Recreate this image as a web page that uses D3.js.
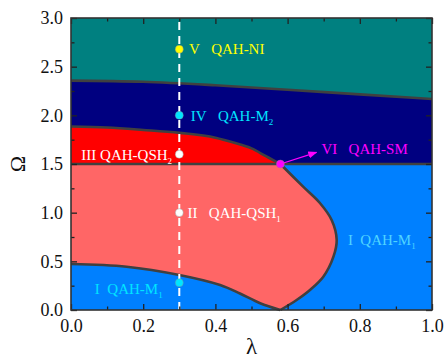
<!DOCTYPE html>
<html><head><meta charset="utf-8">
<script src="https://cdn.jsdelivr.net/npm/d3@7"></script>
<style>
html,body{margin:0;padding:0;background:#fff;}
svg text{font-family:"Liberation Serif","DejaVu Serif",serif !important;}
</style></head>
<body>
<svg id="c" width="444" height="358"></svg>
<script>
// ---- data ----
const xTicks = [0, 0.2, 0.4, 0.6, 0.8, 1.0];
const yTicks = [0, 0.5, 1.0, 1.5, 2.0, 2.5, 3.0];
const xMinor = [0.1, 0.3, 0.5, 0.7, 0.9];
const yMinor = [0.25, 0.75, 1.25, 1.75, 2.25, 2.75];

// V / IV boundary
const topLambda = [0, 0.2, 0.4, 0.6, 0.8, 1.0];
const topOmega  = [2.357, 2.345, 2.309, 2.263, 2.215, 2.168];

// III upper boundary
const redLambda = [0, 0.1, 0.2, 0.3, 0.4, 0.45, 0.5, 0.54, 0.565, 0.58];
const redOmega  = [1.885, 1.875, 1.85, 1.82, 1.77, 1.72, 1.66, 1.58, 1.53, 1.5];

// II right boundary (top to bottom)
const rightLambda = [0.58, 0.643, 0.69, 0.722, 0.736, 0.727, 0.699, 0.662, 0.625, 0.58];
const rightOmega  = [1.5, 1.267, 1.097, 0.925, 0.72, 0.548, 0.342, 0.206, 0.103, 0.0];

// II lower boundary
const lowLambda = [0, 0.154, 0.3, 0.413, 0.468, 0.524, 0.58];
const lowOmega  = [0.473, 0.445, 0.36, 0.257, 0.17, 0.07, 0.0];

const phaseOmega = 1.5;
const cutLambda = 0.3;

// points
const ptLambda = [0.3, 0.3, 0.3, 0.3, 0.3, 0.58];
const ptOmega  = [2.68, 2.0, 1.6, 1.0, 0.28, 1.5];
const ptColor  = ["#ffff00", "#00e5ff", "#ffffff", "#ffffff", "#00e5ff", "#ff00ff"];

// labels
const labNum   = ["V", "IV", "III", "II", "VI", "I", "I"];
const labName  = ["QAH-NI", "QAH-M", "QAH-QSH", "QAH-QSH", "QAH-SM", "QAH-M", "QAH-M"];
const labSub   = ["", "2", "2", "1", "", "1", "1"];
const labLambda= [0.327, 0.332, 0.28, 0.323, 0.694, 0.767, 0.066];
const labOmega = [2.68, 2.0, 1.6, 1.0, 1.655, 0.72, 0.215];
const labGap   = [3, 3, 1, 3, 3, 2, 2];
const labAnchor= ["start","start","end","start","start","start","start"];
const labColor = ["#ffff00", "#00e5ff", "#ffffff", "#ffffff", "#ff00ff", "#4fd4ff", "#00e5ff"];

// arrow (VI)
const arrowLambda = [0.58, 0.68];
const arrowOmega  = [1.5, 1.62];

// ---- layout ----
const svg = d3.select("#c");
const L = 71, R = 432, T = 18, B = 310;
const x = d3.scaleLinear().domain([0, 1]).range([L, R]);
const y = d3.scaleLinear().domain([0, 3]).range([B, T]);

const col = {V:"#008080", IV:"#000080", III:"#ff0000", II:"#ff6666", I:"#0080ff"};
const edge = "#404040";

const g = svg.append("g");
g.append("rect").attr("x", x(0)).attr("y", y(3)).attr("width", x(1)-x(0)).attr("height", y(0)-y(3)).attr("fill", col.V);
const topPts = topLambda.map((l,i)=>[l, topOmega[i]]);
g.append("path").datum(topPts)
  .attr("d", d3.area().x(d=>x(d[0])).y0(y(0)).y1(d=>y(d[1])).curve(d3.curveMonotoneX))
  .attr("fill", col.IV);
g.append("rect").attr("x", x(0)).attr("y", y(phaseOmega)).attr("width", x(1)-x(0)).attr("height", y(0)-y(phaseOmega)).attr("fill", col.I);
const redPts = redLambda.map((l,i)=>[l, redOmega[i]]);
g.append("path").datum(redPts)
  .attr("d", d3.area().x(d=>x(d[0])).y0(y(phaseOmega)).y1(d=>y(d[1])).curve(d3.curveMonotoneX))
  .attr("fill", col.III);
const rightPts = rightLambda.map((l,i)=>[l, rightOmega[i]]);
const lowPts = lowLambda.map((l,i)=>[l, lowOmega[i]]);
const ln = d3.line().x(d=>x(d[0])).y(d=>y(d[1])).curve(d3.curveCatmullRom.alpha(0.5));
const lnX = d3.line().x(d=>x(d[0])).y(d=>y(d[1])).curve(d3.curveMonotoneX);
const pinkD = "M" + x(0) + "," + y(phaseOmega) + "L" + x(rightLambda[0]) + "," + y(phaseOmega)
  + ln(rightPts).replace(/^M/, "L")
  + ln(lowPts.slice().reverse()).replace(/^M/, "L") + "Z";
g.append("path").attr("d", pinkD).attr("fill", col.II);

// boundaries
const lines = svg.append("g").attr("fill", "none").attr("stroke", edge).attr("stroke-width", 2.6);
lines.append("path").attr("d", lnX(topPts));
lines.append("path").attr("d", lnX(redPts));
lines.append("path").attr("d", lnX([[0, phaseOmega],[1, phaseOmega]]));
lines.append("path").attr("d", ln(rightPts));
lines.append("path").attr("d", ln(lowPts));

// dashed cut
svg.append("line").attr("x1", x(cutLambda)).attr("x2", x(cutLambda)).attr("y1", y(0)).attr("y2", y(3))
  .attr("stroke", "#ffffff").attr("stroke-width", 2).attr("stroke-dasharray", "8,6");

// arrow
svg.append("defs").append("marker").attr("id","ah").attr("viewBox","0 0 10 10").attr("refX",9).attr("refY",5)
  .attr("markerWidth",7).attr("markerHeight",7).attr("orient","auto")
  .append("path").attr("d","M0,1L10,5L0,9Z").attr("fill","#ff00ff");
svg.append("line").attr("x1", x(arrowLambda[0])).attr("y1", y(arrowOmega[0]))
  .attr("x2", x(arrowLambda[1])).attr("y2", y(arrowOmega[1]))
  .attr("stroke", "#ff00ff").attr("stroke-width", 1.3).attr("marker-end", "url(#ah)");

// points
svg.append("g").selectAll("circle").data(ptLambda).join("circle")
  .attr("cx", (d)=>x(d)).attr("cy", (d,i)=>y(ptOmega[i])).attr("r", 4)
  .attr("fill", (d,i)=>ptColor[i]).attr("stroke", "#888").attr("stroke-width", 0.4);

// labels
const lg = svg.append("g").attr("font-size", 15);
labNum.forEach((n,i)=>{
  const t = lg.append("text").attr("x", x(labLambda[i])).attr("y", y(labOmega[i])).attr("dy", "0.35em")
    .attr("text-anchor", labAnchor[i]).attr("fill", labColor[i]);
  t.append("tspan").text(n + "\u00a0".repeat(labGap[i]) + labName[i]);
  if (labSub[i]) t.append("tspan").attr("font-size", 9).attr("dy", "0.45em").text(labSub[i]);
});

// axes
const ax = svg.append("g");
function styleAxis(sel){
  sel.attr("font-family", null).attr("font-size", 18);
  sel.select(".domain").remove();
  sel.selectAll("line").attr("stroke", "#222").attr("stroke-width", 1.3);
  sel.selectAll("text").attr("fill", "#111");
}
const fmt = d3.format(".1f");
ax.append("g").attr("transform", `translate(0,${B})`).call(d3.axisBottom(x).tickValues(xTicks).tickFormat(fmt).tickSize(-6).tickPadding(9)).call(styleAxis);
ax.append("g").attr("transform", `translate(0,${B})`).call(d3.axisBottom(x).tickValues(xMinor).tickFormat("").tickSize(-3.5)).call(styleAxis);
ax.append("g").attr("transform", `translate(0,${T})`).call(d3.axisTop(x).tickValues(xTicks).tickFormat("").tickSize(-6)).call(styleAxis);
ax.append("g").attr("transform", `translate(0,${T})`).call(d3.axisTop(x).tickValues(xMinor).tickFormat("").tickSize(-3.5)).call(styleAxis);
ax.append("g").attr("transform", `translate(${L},0)`).call(d3.axisLeft(y).tickValues(yTicks).tickFormat(fmt).tickSize(-6).tickPadding(8)).call(styleAxis);
ax.append("g").attr("transform", `translate(${L},0)`).call(d3.axisLeft(y).tickValues(yMinor).tickFormat("").tickSize(-3.5)).call(styleAxis);
ax.append("g").attr("transform", `translate(${R},0)`).call(d3.axisRight(y).tickValues(yTicks).tickFormat("").tickSize(-6)).call(styleAxis);
ax.append("g").attr("transform", `translate(${R},0)`).call(d3.axisRight(y).tickValues(yMinor).tickFormat("").tickSize(-3.5)).call(styleAxis);

// frame
svg.append("rect").attr("x", L).attr("y", T).attr("width", R-L).attr("height", B-T)
  .attr("fill", "none").attr("stroke", "#333").attr("stroke-width", 1.6);

// titles
svg.append("text").attr("x", (L+R)/2).attr("y", 354).attr("text-anchor", "middle")
  .attr("font-size", 23).attr("fill", "#111").text("λ");
svg.append("text").attr("transform", `translate(17,${(T+B)/2}) rotate(-90)`).attr("dy", "0.35em").attr("text-anchor", "middle")
  .attr("font-size", 22).attr("fill", "#111").text("Ω");
</script>
</body></html>
